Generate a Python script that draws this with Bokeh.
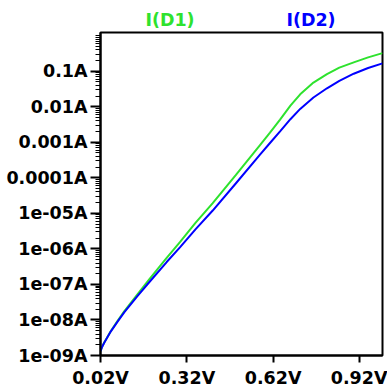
from bokeh.plotting import figure
from bokeh.models import Range1d, FixedTicker, Div
from bokeh.layouts import column
from bokeh.embed import file_html
from bokeh.resources import INLINE

# ---- data ----
voltage = [0.02, 0.025, 0.033, 0.056, 0.08, 0.103, 0.149, 0.19, 0.25, 0.296,
           0.35, 0.41, 0.49, 0.575, 0.609, 0.644, 0.68, 0.714, 0.76, 0.807,
           0.85, 0.90, 0.95, 1.0]
i_d1 = [1.32e-9, 1.72e-9, 2.32e-9, 4.90e-9, 9.55e-9, 1.78e-8, 5.37e-8, 1.41e-7,
        5.62e-7, 1.55e-6, 5.37e-6, 1.95e-5, 1.20e-4, 8.51e-4, 1.86e-3, 4.37e-3,
        1.07e-2, 2.24e-2, 4.79e-2, 8.32e-2, 0.126, 0.178, 0.245, 0.324]
i_d2 = [1.32e-9, 1.70e-9, 2.29e-9, 4.79e-9, 9.12e-9, 1.66e-8, 4.79e-8, 1.17e-7,
        4.27e-7, 1.10e-6, 3.55e-6, 1.20e-5, 6.92e-5, 4.57e-4, 9.55e-4, 2.04e-3,
        4.47e-3, 8.71e-3, 1.82e-2, 3.31e-2, 5.37e-2, 8.51e-2, 0.123, 0.166]

x_ticks = [0.02, 0.32, 0.62, 0.92]
x_tick_labels = ["0.02V", "0.32V", "0.62V", "0.92V"]
y_ticks = [1e-9, 1e-8, 1e-7, 1e-6, 1e-5, 1e-4, 1e-3, 1e-2, 1e-1]
y_tick_labels = ["1e-09A", "1e-08A", "1e-07A", "1e-06A", "1e-05A",
                 "0.0001A", "0.001A", "0.01A", "0.1A"]
series_names = ["I(D1)", "I(D2)"]

GREEN = "#2ee22e"
BLUE = "#0000ff"
FONT = "DejaVu Sans"
FSIZE = "17.5px"

W = 387
HEAD = 30

p = figure(width=W, height=360, output_backend="svg", toolbar_location=None,
           y_axis_type="log",
           x_range=Range1d(0.02, 1.0), y_range=Range1d(1e-9, 1.23),
           min_border_left=100, min_border_right=5, min_border_top=2,
           min_border_bottom=33, margin=0)
p.background_fill_color = "white"
p.border_fill_color = "white"
p.outline_line_color = "black"
p.outline_line_width = 2
p.xgrid.visible = False
p.ygrid.visible = False

minor_y = []
for e in range(-9, 0):
    for k in range(2, 10):
        minor_y.append(k * 10.0 ** e)
minor_y.append(1.0)

p.xaxis.ticker = FixedTicker(ticks=x_ticks, minor_ticks=[])
p.yaxis.ticker = FixedTicker(ticks=y_ticks, minor_ticks=minor_y)
p.xaxis.major_label_overrides = {t: l for t, l in zip(x_ticks, x_tick_labels)}
p.yaxis.major_label_overrides = {t: l for t, l in zip(y_ticks, y_tick_labels)}

for ax in (p.xaxis, p.yaxis):
    ax.axis_line_color = "black"
    ax.axis_line_width = 2
    ax.major_tick_line_color = "black"
    ax.major_tick_line_width = 2
    ax.major_tick_in = 0
    ax.minor_tick_line_color = "black"
    ax.minor_tick_line_width = 1
    ax.minor_tick_in = 0
    ax.major_label_text_font = FONT
    ax.major_label_text_font_style = "bold"
    ax.major_label_text_font_size = FSIZE
    ax.major_label_text_color = "black"

p.xaxis.major_tick_out = 7
p.xaxis.major_label_standoff = 5
p.yaxis.major_tick_out = 10
p.yaxis.minor_tick_out = 5
p.yaxis.major_label_standoff = 3

p.line(voltage, i_d1, line_color=GREEN, line_width=2)
p.line(voltage, i_d2, line_color=BLUE, line_width=2)

spans = ""
for name, color, cx in zip(series_names, [GREEN, BLUE], [170, 311]):
    spans += ('<span style="position:absolute;left:%dpx;top:10px;'
              'transform:translateX(-50%%);color:%s;white-space:nowrap;">%s</span>'
              % (cx, color, name))
head = Div(text=('<div style="position:relative;width:%dpx;height:%dpx;'
                 "font-family:'DejaVu Sans';font-weight:bold;font-size:%s;"
                 'line-height:20px;">%s</div>') % (W, HEAD, FSIZE, spans),
           width=W, height=HEAD, margin=0)

layout = column(head, p, spacing=0)
open("out.html", "w").write(file_html(layout, INLINE))
